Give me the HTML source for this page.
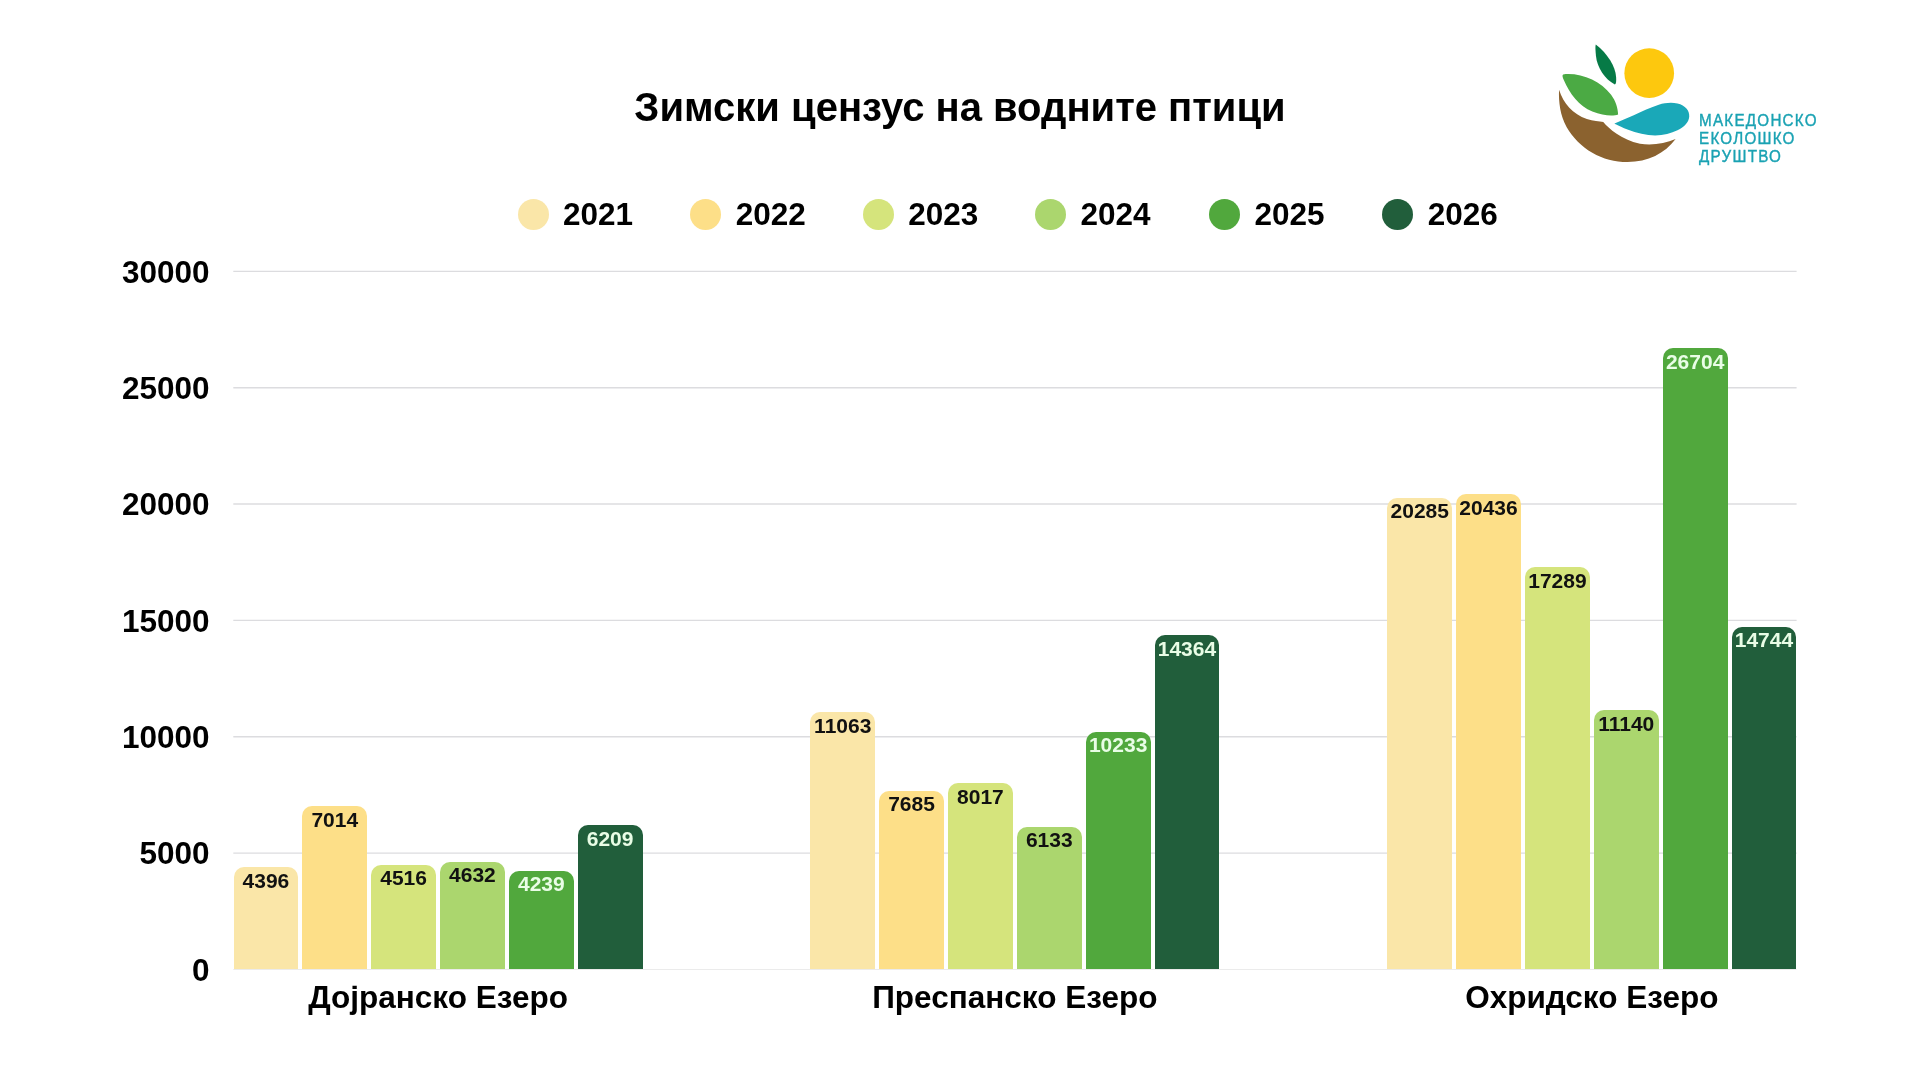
<!DOCTYPE html>
<html><head><meta charset="utf-8"><style>
*{margin:0;padding:0;box-sizing:border-box}
html,body{width:1920px;height:1080px;background:#fff;overflow:hidden}
body{position:relative;will-change:transform;font-family:"Liberation Sans",sans-serif;font-weight:bold;color:#000}
.t{position:absolute;white-space:nowrap;line-height:1}
.gl{position:absolute;left:233px;width:1564px;height:2px;background:#e2e2e6}
.bar{position:absolute;border-radius:10px 10px 0 0}
.v{position:absolute;font-size:21px;line-height:1;text-align:center;white-space:nowrap}
.yl{position:absolute;right:1710.5px;font-size:31.5px;line-height:1;text-align:right}
.lc{position:absolute;width:31px;height:31px;border-radius:50%}
.lt{position:absolute;font-size:31.5px;line-height:1}
.cat{position:absolute;font-size:31.5px;line-height:1;text-align:center;width:600px}
.logo-t{position:absolute;left:1699px;font-size:17.2px;font-weight:normal;color:#1aa2b3;-webkit-text-stroke:0.4px #1aa2b3;letter-spacing:1.4px;transform:scaleX(0.885);transform-origin:0 0;white-space:nowrap;line-height:1}
</style></head><body>
<div class="t" style="left:0;width:1920px;text-align:center;top:87.3px;font-size:40px">Зимски цензус на водните птици</div>
<div class="lc" style="left:517.5px;top:198.9px;background:#fae6a8"></div><div class="lt" style="left:562.9px;top:199.0px">2021</div>
<div class="lc" style="left:690.4px;top:198.9px;background:#fddf88"></div><div class="lt" style="left:735.8px;top:199.0px">2022</div>
<div class="lc" style="left:862.8px;top:198.9px;background:#d5e47c"></div><div class="lt" style="left:908.2px;top:199.0px">2023</div>
<div class="lc" style="left:1035.0px;top:198.9px;background:#abd66e"></div><div class="lt" style="left:1080.4px;top:199.0px">2024</div>
<div class="lc" style="left:1209.0px;top:198.9px;background:#51a83d"></div><div class="lt" style="left:1254.4px;top:199.0px">2025</div>
<div class="lc" style="left:1382.3px;top:198.9px;background:#215e3b"></div><div class="lt" style="left:1427.7px;top:199.0px">2026</div>
<div class="yl" style="top:954.6px">0</div>
<div class="yl" style="top:838.3px">5000</div>
<div class="yl" style="top:722.0px">10000</div>
<div class="yl" style="top:605.7px">15000</div>
<div class="yl" style="top:489.4px">20000</div>
<div class="yl" style="top:373.1px">25000</div>
<div class="yl" style="top:256.9px">30000</div>
<svg style="position:absolute;left:0;top:0" width="1920" height="1080"><line x1="233.3" x2="1796.6" y1="969.50" y2="969.50" stroke="#ebebeb" stroke-width="1.2"/><line x1="233.3" x2="1796.6" y1="853.14" y2="853.14" stroke="#dcdcdf" stroke-width="1.4"/><line x1="233.3" x2="1796.6" y1="736.78" y2="736.78" stroke="#dcdcdf" stroke-width="1.4"/><line x1="233.3" x2="1796.6" y1="620.42" y2="620.42" stroke="#dcdcdf" stroke-width="1.4"/><line x1="233.3" x2="1796.6" y1="504.06" y2="504.06" stroke="#dcdcdf" stroke-width="1.4"/><line x1="233.3" x2="1796.6" y1="387.70" y2="387.70" stroke="#dcdcdf" stroke-width="1.4"/><line x1="233.3" x2="1796.6" y1="271.34" y2="271.34" stroke="#dcdcdf" stroke-width="1.4"/></svg>
<div class="bar" style="left:233.5px;top:867.3px;width:64.9px;height:101.7px;background:#fae6a8"></div><div class="v" style="left:223.5px;width:84.9px;top:869.8px;color:#111">4396</div>
<div class="bar" style="left:302.3px;top:806.4px;width:64.9px;height:162.6px;background:#fddf88"></div><div class="v" style="left:292.3px;width:84.9px;top:808.9px;color:#111">7014</div>
<div class="bar" style="left:371.2px;top:864.5px;width:64.9px;height:104.5px;background:#d5e47c"></div><div class="v" style="left:361.2px;width:84.9px;top:867.0px;color:#111">4516</div>
<div class="bar" style="left:440.0px;top:861.8px;width:64.9px;height:107.2px;background:#abd66e"></div><div class="v" style="left:430.0px;width:84.9px;top:864.3px;color:#111">4632</div>
<div class="bar" style="left:508.9px;top:870.9px;width:64.9px;height:98.1px;background:#51a83d"></div><div class="v" style="left:498.9px;width:84.9px;top:873.4px;color:#e9fde6">4239</div>
<div class="bar" style="left:577.7px;top:825.1px;width:64.9px;height:143.9px;background:#215e3b"></div><div class="v" style="left:567.7px;width:84.9px;top:827.6px;color:#e9fde6">6209</div>
<div class="bar" style="left:810.3px;top:712.1px;width:64.9px;height:256.9px;background:#fae6a8"></div><div class="v" style="left:800.3px;width:84.9px;top:714.6px;color:#111">11063</div>
<div class="bar" style="left:879.1px;top:790.8px;width:64.9px;height:178.2px;background:#fddf88"></div><div class="v" style="left:869.1px;width:84.9px;top:793.3px;color:#111">7685</div>
<div class="bar" style="left:948.0px;top:783.0px;width:64.9px;height:186.0px;background:#d5e47c"></div><div class="v" style="left:938.0px;width:84.9px;top:785.5px;color:#111">8017</div>
<div class="bar" style="left:1016.8px;top:826.9px;width:64.9px;height:142.1px;background:#abd66e"></div><div class="v" style="left:1006.8px;width:84.9px;top:829.4px;color:#111">6133</div>
<div class="bar" style="left:1085.7px;top:731.5px;width:64.9px;height:237.5px;background:#51a83d"></div><div class="v" style="left:1075.7px;width:84.9px;top:734.0px;color:#e9fde6">10233</div>
<div class="bar" style="left:1154.5px;top:635.3px;width:64.9px;height:333.7px;background:#215e3b"></div><div class="v" style="left:1144.5px;width:84.9px;top:637.8px;color:#e9fde6">14364</div>
<div class="bar" style="left:1387.3px;top:497.5px;width:64.9px;height:471.5px;background:#fae6a8"></div><div class="v" style="left:1377.3px;width:84.9px;top:500.0px;color:#111">20285</div>
<div class="bar" style="left:1456.1px;top:494.0px;width:64.9px;height:475.0px;background:#fddf88"></div><div class="v" style="left:1446.1px;width:84.9px;top:496.5px;color:#111">20436</div>
<div class="bar" style="left:1525.0px;top:567.3px;width:64.9px;height:401.7px;background:#d5e47c"></div><div class="v" style="left:1515.0px;width:84.9px;top:569.8px;color:#111">17289</div>
<div class="bar" style="left:1593.8px;top:710.3px;width:64.9px;height:258.7px;background:#abd66e"></div><div class="v" style="left:1583.8px;width:84.9px;top:712.8px;color:#111">11140</div>
<div class="bar" style="left:1662.7px;top:348.1px;width:64.9px;height:620.9px;background:#51a83d"></div><div class="v" style="left:1652.7px;width:84.9px;top:350.6px;color:#e9fde6">26704</div>
<div class="bar" style="left:1731.5px;top:626.5px;width:64.9px;height:342.5px;background:#215e3b"></div><div class="v" style="left:1721.5px;width:84.9px;top:629.0px;color:#e9fde6">14744</div>
<div class="cat" style="left:138.1px;top:982.1px">Дојранско Езеро</div>
<div class="cat" style="left:714.8px;top:982.1px">Преспанско Езеро</div>
<div class="cat" style="left:1291.8px;top:982.1px">Охридско Езеро</div>
<svg style="position:absolute;left:1540px;top:30px" width="300" height="150" viewBox="0 0 1920 960">
<path fill="#067a46" d="M357,92 C432,150 482,230 487,300 C489,330 487,345 479,348 C418,318 366,245 358,165 C355,130 353,105 357,92Z"/>
<circle cx="699" cy="276" r="159" fill="#fdc80e"/>
<path fill="#4baa44" d="M148,284 C262,272 385,325 455,415 C485,455 498,500 500,540 C472,552 405,550 335,522 C250,488 188,405 153,322 C144,302 141,289 148,284Z"/>
<path fill="#8b622f" d="M122,383 C150,470 210,540 300,570 C340,582 380,585 405,588 C440,630 520,700 640,728 C720,742 800,725 868,698 C800,790 690,845 560,845 C400,845 250,760 170,620 C130,550 118,460 122,383Z"/>
<path fill="#1aa8b8" d="M481,596 C520,580 560,562 600,545 C650,523 700,498 760,478 C800,466 840,462 880,470 C930,482 958,515 955,555 C952,590 925,620 880,642 C840,662 790,675 737,675 C680,675 620,660 560,637 C530,625 505,612 485,603 C476,600 475,598 481,596Z"/>
</svg>
<div class="logo-t" style="top:112.0px">МАКЕДОНСКО</div>
<div class="logo-t" style="top:129.7px">ЕКОЛОШКО</div>
<div class="logo-t" style="top:147.5px">ДРУШТВО</div>
</body></html>
